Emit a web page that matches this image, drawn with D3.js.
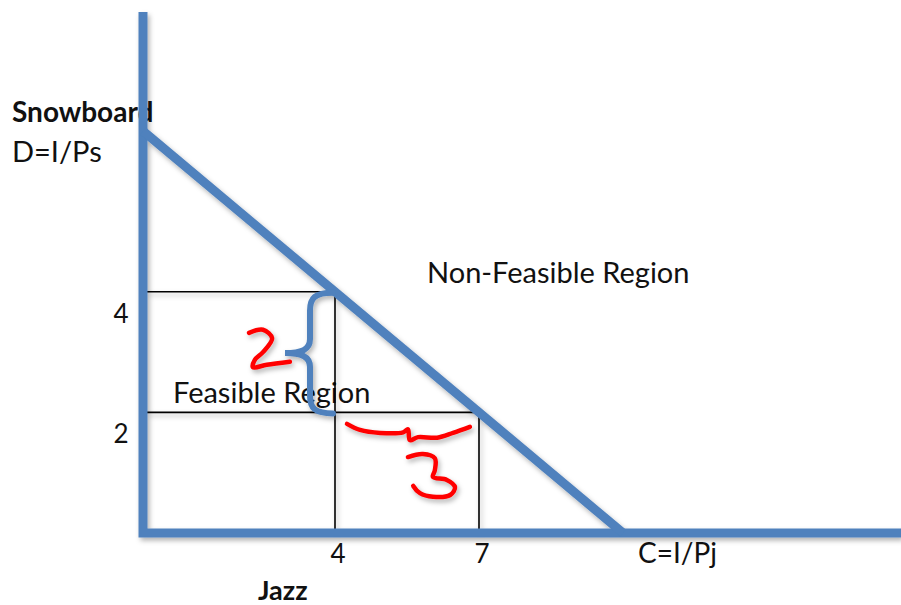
<!DOCTYPE html>
<html>
<head>
<meta charset="utf-8">
<script src="https://cdn.jsdelivr.net/npm/d3@7"></script>
<style>
  html, body { margin: 0; padding: 0; background: #fff; }
  text { font-family: Lato, "Open Sans", sans-serif; fill: #111; }
</style>
</head>
<body>
<div id="viz"></div>
<script>

// budget line end points (jazz, snowboard)
var budget = [[0, 20 / 3], [10, 0]];
// two bundles on the line
var bundles = [[4, 4], [7, 2]];
var xTicks = [4, 7];
var yTicks = [4, 2];

// red hand-drawn notes, in chart units
var inkTwo = [[2.21, 3.32], [2.5, 3.37], [2.69, 3.23], [2.5, 3.0], [2.33, 2.87], [2.29, 2.75], [2.58, 2.79], [3.06, 2.84]];
var inkWave = [[4.25, 1.81], [4.52, 1.71], [4.94, 1.66], [5.42, 1.67], [5.52, 1.72], [5.56, 1.54], [5.73, 1.59], [6.13, 1.58], [6.46, 1.66], [6.81, 1.76]];
var inkThree = [[5.52, 1.26], [5.83, 1.31], [6.08, 1.24], [6.08, 1.04], [6.04, 0.93], [6.33, 0.88], [6.5, 0.76], [6.4, 0.63], [6.04, 0.60], [5.77, 0.66], [5.63, 0.78]];

var viz = { width: 901, height: 605 };
var blue = "#4f81bd";

var x = d3.scaleLinear().domain([0, 10]).range([143, 623]);
var y = d3.scaleLinear().domain([0, 4]).range([533, 291.8]);

var svg = d3.select("#viz")
	.append("svg")
	.attr("width", viz.width)
	.attr("height", viz.height);

var shadow = svg.append("defs").append("filter")
	.attr("id", "shadow")
	.attr("x", "-10%").attr("y", "-10%")
	.attr("width", "130%").attr("height", "130%");
shadow.append("feDropShadow")
	.attr("dx", 2).attr("dy", 3)
	.attr("stdDeviation", 2.5)
	.attr("flood-color", "#000")
	.attr("flood-opacity", 0.3);

// labels go first, the lines are drawn over them
svg.selectAll(".ytick")
	.data(yTicks).enter()
	.append("text")
	.attr("class", "ytick")
	.attr("x", 121)
	.attr("y", function(d) { return y(d) + 31 })
	.attr("text-anchor", "middle")
	.style("font-size", "26px")
	.text(function(d) { return d });

svg.selectAll(".xtick")
	.data(xTicks).enter()
	.append("text")
	.attr("class", "xtick")
	.attr("x", function(d) { return x(d) + 3 })
	.attr("y", 563)
	.attr("text-anchor", "middle")
	.style("font-size", "26px")
	.text(function(d) { return d });

var labels = [
	{ t: "Snowboard", x: 12, y: 122, b: true, s: 28 },
	{ t: "D=I/Ps", x: 12, y: 162, s: 29 },
	{ t: "Jazz", x: 258, y: 600, b: true, s: 27 },
	{ t: "C=I/Pj", x: 638, y: 563, s: 28 },
	{ t: "Non-Feasible Region", x: 427, y: 283, s: 29 },
	{ t: "Feasible Region", x: 173, y: 403, s: 29 }
];
svg.selectAll(".label")
	.data(labels).enter()
	.append("text")
	.attr("class", "label")
	.attr("x", function(d) { return d.x })
	.attr("y", function(d) { return d.y })
	.style("font-size", function(d) { return d.s + "px" })
	.style("font-weight", function(d) { return d.b ? "bold" : "normal" })
	.text(function(d) { return d.t });

var g = svg.append("g").attr("filter", "url(#shadow)");

// thin guide lines to each bundle
bundles.forEach(function(d) {
	g.append("line")
		.attr("x1", x(0)).attr("x2", x(d[0]))
		.attr("y1", y(d[1])).attr("y2", y(d[1]))
		.attr("stroke", "#000").attr("stroke-width", 1.6);
	g.append("line")
		.attr("x1", x(d[0])).attr("x2", x(d[0]))
		.attr("y1", y(d[1])).attr("y2", y(0))
		.attr("stroke", "#000").attr("stroke-width", 1.6);
});

// axes and budget line
var line = d3.line().x(function(d) { return x(d[0]) }).y(function(d) { return y(d[1]) });

g.append("path")
	.attr("d", line([[0, 8.64], [0, 0], [15.8, 0]]))
	.attr("fill", "none")
	.attr("stroke", blue).attr("stroke-width", 9)
	.attr("stroke-linejoin", "miter");

g.append("path")
	.attr("d", line(budget))
	.attr("fill", "none")
	.attr("stroke", blue).attr("stroke-width", 9);

// curly brace between the two snowboard levels at jazz = 4
var bx = x(bundles[0][0]) - 2, bTop = y(bundles[0][1]) + 1, bBot = y(bundles[1][1]) + 1;
var mid = (bTop + bBot) / 2;
var brace = "M" + bx + "," + bTop +
	" C" + (bx - 18) + "," + bTop + " " + (bx - 23) + "," + (bTop + 5) + " " + (bx - 23) + "," + (bTop + 18) +
	" L" + (bx - 23) + "," + (mid - 14) +
	" C" + (bx - 23) + "," + (mid - 3) + " " + (bx - 32) + "," + mid + " " + (bx - 48) + "," + mid +
	" C" + (bx - 32) + "," + mid + " " + (bx - 23) + "," + (mid + 3) + " " + (bx - 23) + "," + (mid + 14) +
	" L" + (bx - 23) + "," + (bBot - 18) +
	" C" + (bx - 23) + "," + (bBot - 5) + " " + (bx - 18) + "," + bBot + " " + bx + "," + bBot;
g.append("path")
	.attr("d", brace)
	.attr("fill", "none")
	.attr("stroke", blue).attr("stroke-width", 6)
	.attr("stroke-linecap", "round");

// red ink
var ink = d3.line().curve(d3.curveCatmullRom.alpha(0.5))
	.x(function(d) { return x(d[0]) }).y(function(d) { return y(d[1]) });
[inkTwo, inkWave, inkThree].forEach(function(s) {
	g.append("path")
		.attr("d", ink(s))
		.attr("fill", "none")
		.attr("stroke", "#ff0000").attr("stroke-width", 4.5)
		.attr("stroke-linecap", "round").attr("stroke-linejoin", "round");
});

</script>
</body>
</html>
